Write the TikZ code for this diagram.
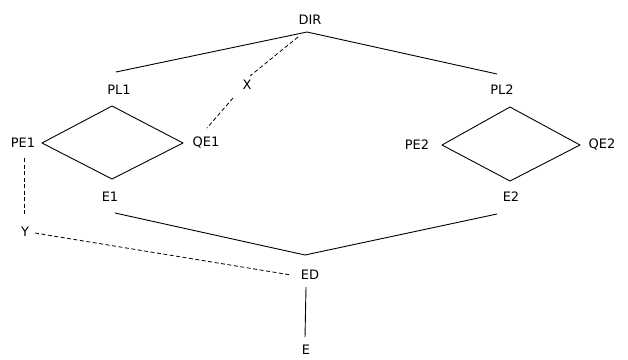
\documentclass[tikz,border=0pt]{standalone}
\usepackage{fontspec}
\setmainfont{DejaVu Sans}
\begin{document}
\begin{tikzpicture}[x=1pt,y=-1pt,
  lbl/.style={inner sep=0pt,font=\fontsize{13}{15}\selectfont},
  solidline/.style={line width=0.9pt,line join=round},
  dashline/.style={line width=0.8pt,dash pattern=on 4pt off 2.5pt}]
\useasboundingbox (0,0) rectangle (628,359);

% labels
\node[lbl] (DIR) at (310,20) {DIR};
\node[lbl] (PL1) at (119,90) {PL1};
\node[lbl] (PL2) at (502,90) {PL2};
\node[lbl] (X)   at (247,85) {X};
\node[lbl] (PE1) at (23,143) {PE1};
\node[lbl] (QE1) at (206,143) {QE1};
\node[lbl] (PE2) at (417,145) {PE2};
\node[lbl] (QE2) at (602,145) {QE2};
\node[lbl] (E1)  at (110,197) {E1};
\node[lbl] (E2)  at (511,197) {E2};
\node[lbl] (Y)   at (25,232) {Y};
\node[lbl] (ED)  at (310,275) {ED};
\node[lbl] (E)   at (306,350) {E};

% junction and end points
\coordinate (top)  at (307,32);
\coordinate (pl1e) at (116,72);
\coordinate (pl2e) at (497,74);
\coordinate (e1e)  at (115,213);
\coordinate (e2e)  at (497,214);
\coordinate (bot)  at (305,255);
\coordinate (eda)  at (306,287);
\coordinate (edb)  at (305,337);

% diamond corners
\coordinate (d1t) at (112,106);
\coordinate (d1l) at (42,143);
\coordinate (d1b) at (112,179);
\coordinate (d1r) at (183,143);
\coordinate (d2t) at (510,107);
\coordinate (d2l) at (442,145);
\coordinate (d2b) at (510,181);
\coordinate (d2r) at (580,145);

% solid connectors
\draw[solidline] (pl1e) -- (top) -- (pl2e);
\draw[solidline] (e1e) -- (bot) -- (e2e);
\draw[solidline] (eda) -- (edb);
\draw[solidline] (d1t) -- (d1r) -- (d1b) -- (d1l) -- cycle;
\draw[solidline] (d2t) -- (d2r) -- (d2b) -- (d2l) -- cycle;

% dashed connectors
\coordinate (xa) at (298,37);
\coordinate (xb) at (250,76);
\coordinate (xc) at (233,98);
\coordinate (xd) at (207,128);
\draw[dashline] (xa) -- (xb);
\draw[dashline] (xc) -- (xd);
\coordinate (ya) at (24,158);
\coordinate (yb) at (24,214);
\coordinate (yc) at (35,233);
\coordinate (yd) at (291,275);
\draw[dashline] (ya) -- (yb);
\draw[dashline] (yc) -- (yd);
\end{tikzpicture}
\end{document}
